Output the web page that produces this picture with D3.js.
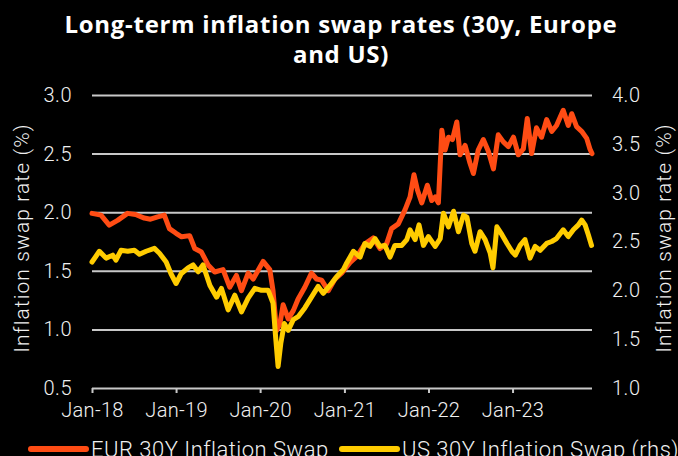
<!DOCTYPE html>
<html>
<head>
<meta charset="utf-8">
<script src="https://cdn.jsdelivr.net/npm/d3@7"></script>
<style>
  html, body { margin: 0; padding: 0; background: #000; }
  svg { display: block; }
</style>
</head>
<body>
<script>
// EUR 30Y inflation swap (left axis, %)
var eurDates = ["2018-01-01","2018-02-09","2018-03-17","2018-04-22","2018-06-04","2018-07-09","2018-08-16","2018-09-12","2018-10-13","2018-11-11",
  "2018-12-03","2019-01-01","2019-01-25","2019-03-01","2019-03-23","2019-04-21","2019-05-20","2019-06-18","2019-07-24","2019-08-22",
  "2019-09-20","2019-10-12","2019-11-10","2019-12-02","2020-01-14","2020-02-12","2020-02-26","2020-03-12","2020-03-27","2020-04-10",
  "2020-05-02","2020-05-24","2020-06-14","2020-07-13","2020-08-11","2020-09-02","2020-09-24","2020-10-23","2020-11-21","2020-12-20",
  "2021-01-25","2021-02-23","2021-03-31","2021-05-06","2021-06-04","2021-07-03","2021-07-25","2021-08-23","2021-09-21","2021-10-13",
  "2021-10-30","2021-11-14","2021-12-03","2021-12-27","2022-01-15","2022-01-30","2022-02-13","2022-02-28","2022-03-14","2022-03-29",
  "2022-04-15","2022-05-04","2022-05-18","2022-06-09","2022-06-30","2022-07-15","2022-08-05","2022-08-27","2022-09-18","2022-10-10",
  "2022-10-31","2022-11-22","2022-12-14","2023-01-05","2023-01-26","2023-02-17","2023-03-06","2023-03-25","2023-04-15","2023-05-07",
  "2023-05-29","2023-06-20","2023-07-11","2023-08-09","2023-08-31","2023-09-15","2023-10-06","2023-10-28","2023-11-19","2023-12-03",
  "2023-12-12"];
var eurValues = [1.99,1.975,1.89,1.93,1.99,1.98,1.95,1.94,1.96,1.975,
  1.86,1.82,1.79,1.80,1.69,1.66,1.55,1.49,1.51,1.36,
  1.46,1.33,1.48,1.43,1.58,1.51,1.33,0.99,1.05,1.21,
  1.09,1.16,1.26,1.36,1.48,1.43,1.42,1.33,1.43,1.48,
  1.57,1.62,1.73,1.78,1.69,1.73,1.86,1.90,2.02,2.13,
  2.32,2.19,2.08,2.23,2.10,2.13,2.08,2.70,2.53,2.64,
  2.62,2.77,2.49,2.57,2.42,2.33,2.53,2.62,2.52,2.37,
  2.66,2.60,2.56,2.64,2.49,2.54,2.80,2.50,2.72,2.64,
  2.79,2.69,2.74,2.87,2.74,2.84,2.73,2.69,2.63,2.54,
  2.50];

// US 30Y inflation swap (right axis, %)
var usDates = ["2018-01-01","2018-02-02","2018-03-03","2018-04-01","2018-04-15","2018-05-07","2018-06-05","2018-07-04","2018-07-26","2018-08-24",
  "2018-09-29","2018-10-21","2018-11-19","2018-12-10","2019-01-01","2019-01-23","2019-02-22","2019-03-16","2019-04-07","2019-04-28",
  "2019-05-28","2019-06-26","2019-07-17","2019-08-15","2019-09-13","2019-10-12","2019-11-10","2019-12-09","2020-01-07","2020-02-05",
  "2020-02-26","2020-03-08","2020-03-19","2020-03-31","2020-04-15","2020-05-02","2020-05-24","2020-06-14","2020-07-13","2020-08-11",
  "2020-09-09","2020-10-01","2020-10-30","2020-11-28","2020-12-27","2021-01-11","2021-02-09","2021-03-10","2021-03-31","2021-04-22",
  "2021-05-14","2021-06-04","2021-06-26","2021-07-18","2021-08-08","2021-09-07","2021-09-29","2021-10-13","2021-11-04","2021-11-21",
  "2021-12-10","2022-01-01","2022-01-30","2022-02-21","2022-03-07","2022-03-29","2022-04-20","2022-05-11","2022-06-02","2022-06-17",
  "2022-07-08","2022-07-22","2022-08-13","2022-09-04","2022-09-26","2022-10-08","2022-10-25","2022-11-16","2022-12-08","2022-12-29",
  "2023-01-13","2023-02-03","2023-02-24","2023-03-18","2023-04-09","2023-05-01","2023-05-29","2023-06-20","2023-07-11","2023-08-09",
  "2023-08-31","2023-09-22","2023-10-14","2023-10-28","2023-11-12","2023-11-26","2023-12-10"];
var usValues = [2.29,2.40,2.33,2.36,2.31,2.41,2.40,2.41,2.37,2.40,
  2.43,2.38,2.29,2.17,2.07,2.17,2.23,2.26,2.19,2.26,
  2.05,1.93,2.02,1.80,1.95,1.78,1.92,2.02,2.00,2.00,
  1.87,1.53,1.22,1.46,1.66,1.59,1.70,1.73,1.82,1.93,
  2.04,1.97,2.05,2.14,2.21,2.28,2.40,2.34,2.48,2.45,
  2.53,2.45,2.46,2.34,2.46,2.46,2.52,2.62,2.52,2.67,
  2.46,2.55,2.45,2.53,2.79,2.65,2.81,2.60,2.77,2.75,
  2.48,2.40,2.60,2.52,2.38,2.23,2.65,2.57,2.48,2.40,
  2.36,2.46,2.52,2.33,2.45,2.41,2.48,2.50,2.53,2.62,
  2.55,2.62,2.67,2.72,2.67,2.57,2.46];

var leftTicks = [0.5, 1.0, 1.5, 2.0, 2.5, 3.0];
var rightTicks = [1.0, 1.5, 2.0, 2.5, 3.0, 3.5, 4.0];
var xTickDates = ["2018-01-01","2019-01-01","2020-01-01","2021-01-01","2022-01-01","2023-01-01"];
var titleLines = ["Long-term inflation swap rates (30y, Europe", "and US)"];
var axisTitle = "Inflation swap rate (%)";
var seriesNames = ["EUR 30Y Inflation Swap", "US 30Y Inflation Swap (rhs)"];

var eurColor = "#ff4c14", usColor = "#ffcc00", gridColor = "#c8c8c8", textColor = "#f0f0f0";
var W = 678, H = 456;
var plotL = 92, plotR = 592, plotT = 95, plotB = 388;
var parse = d3.timeParse("%Y-%m-%d");
var lightFont = "Roboto, sans-serif";

var svg = d3.select("body").append("svg").attr("width", W).attr("height", H);

var x = d3.scaleTime()
  .domain([parse("2018-01-01"), parse("2023-12-12")])
  .range([plotL, plotR]);
var yL = d3.scaleLinear().domain([0.5, 3.0]).range([plotB, plotT]);
var yR = d3.scaleLinear().domain([1.0, 4.0]).range([plotB, plotT]);

// title
svg.append("text")
  .attr("text-anchor", "middle")
  .attr("fill", "#fff").attr("font-weight", 700).attr("font-size", 24)
  .attr("letter-spacing", 0.7)
  .style("font-family", "'Open Sans', sans-serif")
  .selectAll("tspan").data(titleLines).enter().append("tspan")
    .attr("x", 341)
    .attr("y", function(d, i) { return 33 + i * 30; })
    .text(function(d) { return d; });

// gridlines + left axis
var gL = svg.append("g").attr("transform", "translate(" + plotL + ",0)")
  .call(d3.axisLeft(yL).tickValues(leftTicks).tickFormat(d3.format(".1f"))
    .tickSize(-(plotR - plotL)).tickPadding(20));
gL.select(".domain").remove();
gL.selectAll("line").attr("stroke", gridColor).attr("stroke-width", 2);
gL.selectAll("text").attr("fill", textColor).attr("font-size", 20).attr("font-weight", 300)
  .attr("font-family", lightFont).attr("letter-spacing", 0.5);

// right axis
var gR = svg.append("g").attr("transform", "translate(" + plotR + ",0)")
  .call(d3.axisRight(yR).tickValues(rightTicks).tickFormat(d3.format(".1f"))
    .tickSize(0).tickPadding(20));
gR.select(".domain").remove();
gR.selectAll("text").attr("fill", textColor).attr("font-size", 20).attr("font-weight", 300)
  .attr("font-family", lightFont).attr("letter-spacing", 0.5);

// bottom axis
var gX = svg.append("g").attr("transform", "translate(0," + plotB + ")")
  .call(d3.axisBottom(x).tickValues(xTickDates.map(parse))
    .tickFormat(d3.timeFormat("%b-%y")).tickSize(5).tickPadding(10));
gX.select(".domain").remove();
gX.selectAll("line").attr("stroke", gridColor).attr("stroke-width", 2);
gX.selectAll("text").attr("fill", textColor).attr("font-size", 20).attr("font-weight", 300)
  .attr("font-family", lightFont).attr("letter-spacing", 0.3);

// axis titles
[29, 671].forEach(function(cx) {
  svg.append("text")
    .attr("transform", "translate(" + cx + ",238) rotate(-90)")
    .attr("text-anchor", "middle").attr("fill", textColor)
    .attr("font-family", lightFont)
    .attr("font-size", 21).attr("font-weight", 300).attr("letter-spacing", 1.1)
    .text(axisTitle);
});

// lines
var eurData = eurDates.map(function(d, i) { return { date: parse(d), value: eurValues[i] }; });
var usData = usDates.map(function(d, i) { return { date: parse(d), value: usValues[i] }; });

svg.append("path").datum(eurData)
  .attr("fill", "none").attr("stroke", eurColor).attr("stroke-width", 5)
  .attr("stroke-linejoin", "round").attr("stroke-linecap", "round")
  .attr("d", d3.line().x(function(d) { return x(d.date); }).y(function(d) { return yL(d.value); }));

svg.append("path").datum(usData)
  .attr("fill", "none").attr("stroke", usColor).attr("stroke-width", 5)
  .attr("stroke-linejoin", "round").attr("stroke-linecap", "round")
  .attr("d", d3.line().x(function(d) { return x(d.date); }).y(function(d) { return yR(d.value); }));

// legend
var legend = svg.append("g").selectAll("g")
  .data(seriesNames).enter().append("g")
  .attr("transform", function(d, i) { return "translate(" + (i === 0 ? 31 : 342) + ",449)"; });
legend.append("line")
  .attr("x1", 0).attr("x2", 55).attr("y1", 0).attr("y2", 0)
  .attr("stroke", function(d, i) { return i === 0 ? eurColor : usColor; })
  .attr("stroke-width", 6).attr("stroke-linecap", "round");
legend.append("text")
  .attr("x", 60).attr("y", 8)
  .attr("fill", textColor).attr("font-family", lightFont)
  .attr("font-size", 22).attr("font-weight", 300).attr("letter-spacing", 0.5)
  .text(function(d) { return d; });
</script>
</body>
</html>
